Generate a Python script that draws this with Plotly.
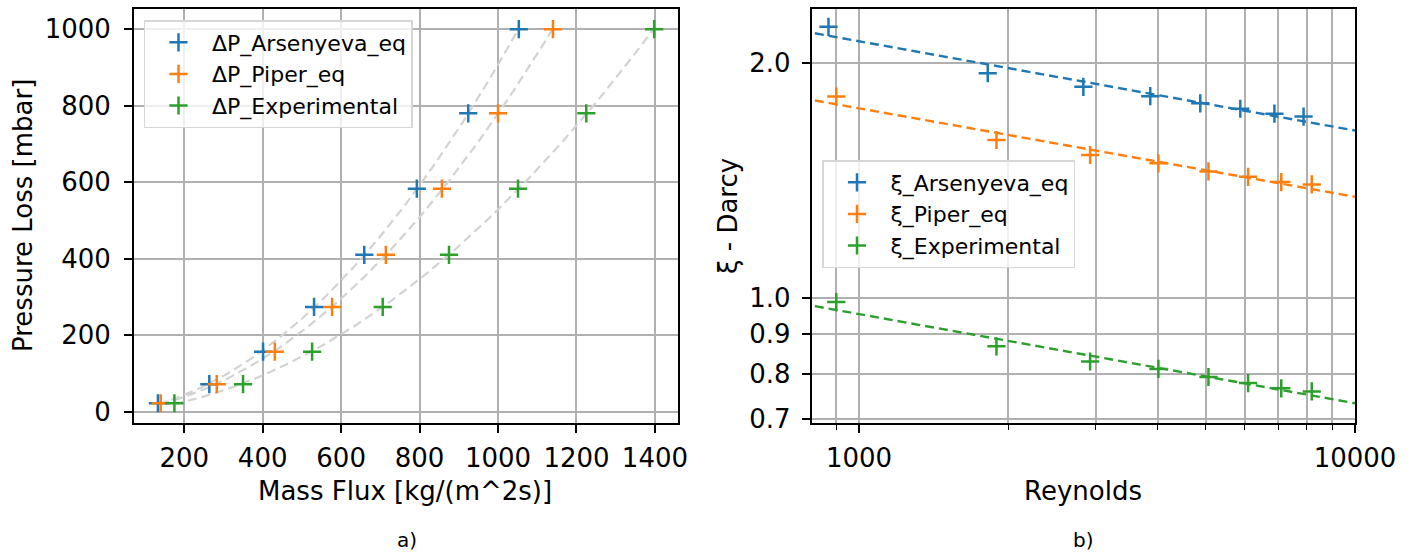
import numpy as np
import plotly.graph_objects as go

# ---------------- data ----------------
pressure_loss = [22, 72, 157, 274, 410, 583, 780, 1000]
mass_flux_arsenyeva = [133, 264, 401, 531, 659, 793, 924, 1053]
mass_flux_piper = [140, 283, 431, 577, 714, 857, 1000, 1140]
mass_flux_exp = [175, 350, 526, 706, 875, 1051, 1225, 1398]

reynolds_arsenyeva = [868, 1818, 2834, 3866, 4876, 5872, 6880, 7876]
reynolds_other = [900, 1893, 2924, 4015, 5065, 6088, 7102, 8181]
xi_arsenyeva = [2.227, 1.942, 1.866, 1.815, 1.777, 1.749, 1.724, 1.709]
xi_piper = [1.813, 1.595, 1.526, 1.489, 1.454, 1.431, 1.409, 1.399]
xi_exp = [0.989, 0.868, 0.830, 0.812, 0.793, 0.779, 0.767, 0.760]

left_names = ["ΔP_Arsenyeva_eq", "ΔP_Piper_eq", "ΔP_Experimental"]
right_names = ["ξ_Arsenyeva_eq", "ξ_Piper_eq", "ξ_Experimental"]
colors = ["#1f77b4", "#ff7f0e", "#2ca02c"]

W, H = 1413, 552
FONT = "DejaVu Sans"
FS_TICK = 26
FS_LABEL = 26
FS_LEG = 22

fig = go.Figure()

# ---------- left: pressure loss vs mass flux ----------
left_x = [mass_flux_arsenyeva, mass_flux_piper, mass_flux_exp]
for xs in left_x:
    c = np.polyfit(xs, pressure_loss, 2)
    xx = np.linspace(min(xs), max(xs), 100)
    fig.add_trace(go.Scatter(x=xx, y=np.polyval(c, xx), mode="lines",
                             line=dict(color="#d3d3d3", width=2.2, dash="9px,5px"),
                             showlegend=False, hoverinfo="skip",
                             xaxis="x", yaxis="y"))
for xs, name, col in zip(left_x, left_names, colors):
    fig.add_trace(go.Scatter(x=xs, y=pressure_loss, mode="markers", name=name,
                             marker=dict(symbol="cross-thin", size=13,
                                         line=dict(width=2.5, color=col), color=col),
                             xaxis="x", yaxis="y", legend="legend"))

# ---------- right: Darcy factor vs Reynolds ----------
right_x = [reynolds_arsenyeva, reynolds_other, reynolds_other]
right_y = [xi_arsenyeva, xi_piper, xi_exp]
for xs, ys, col in zip(right_x, right_y, colors):
    c = np.polyfit(np.log10(xs), np.log10(ys), 1)
    xx = np.logspace(2.8, 4.05, 60)
    fig.add_trace(go.Scatter(x=xx, y=10 ** np.polyval(c, np.log10(xx)), mode="lines",
                             line=dict(color=col, width=2.4, dash="9px,5px"),
                             showlegend=False, hoverinfo="skip",
                             xaxis="x2", yaxis="y2"))
for xs, ys, name, col in zip(right_x, right_y, right_names, colors):
    fig.add_trace(go.Scatter(x=xs, y=ys, mode="markers", name=name,
                             marker=dict(symbol="cross-thin", size=13,
                                         line=dict(width=2.5, color=col), color=col),
                             xaxis="x2", yaxis="y2", legend="legend2"))

ax_common = dict(showline=True, linecolor="black", linewidth=1.8, mirror=True,
                 showgrid=True, gridcolor="#b0b0b0", gridwidth=1.8,
                 ticks="outside", ticklen=8, tickwidth=1.8, tickcolor="black",
                 zeroline=False, automargin=False,
                 tickfont=dict(family=FONT, size=FS_TICK, color="black"))

ytop = 1 - 9.3 / H
ybot = 1 - 422.7 / H

fig.update_layout(
    width=W, height=H, autosize=False,
    margin=dict(l=0, r=0, t=0, b=0, pad=0),
    paper_bgcolor="white", plot_bgcolor="white",
    font=dict(family=FONT, size=FS_TICK, color="black"),
    xaxis=dict(domain=[134 / W, 677.7 / W], range=[72, 1458],
               tickvals=[200, 400, 600, 800, 1000, 1200, 1400], anchor="y",
               ticklabelstandoff=3, **ax_common),
    yaxis=dict(domain=[ybot, ytop], range=[-28.8, 1052],
               tickvals=[0, 200, 400, 600, 800, 1000], anchor="x",
               ticklabelstandoff=8, **ax_common),
    xaxis2=dict(domain=[811.7 / W, 1355 / W], type="log",
                range=[np.log10(803), 4], tickvals=[1000, 10000], ticktext=["1000", "10000"],
                anchor="y2", ticklabelstandoff=3,
                minor=dict(tickvals=[900, 2000, 3000, 4000, 5000, 6000, 7000, 8000, 9000],
                           ticks="outside", ticklen=5, tickwidth=1.4, tickcolor="black",
                           showgrid=True, gridcolor="#b0b0b0", gridwidth=1.8),
                **ax_common),
    yaxis2=dict(domain=[ybot, ytop], type="log",
                range=[np.log10(0.693), np.log10(2.345)],
                tickvals=[0.7, 0.8, 0.9, 1.0, 2.0], ticktext=["0.7", "0.8", "0.9", "1.0", "2.0"],
                anchor="x2", ticklabelstandoff=6, **ax_common),
    legend=dict(x=143.5 / W, y=1 - 20 / H, xanchor="left", yanchor="top",
                bgcolor="rgba(255,255,255,0.8)", bordercolor="#d6d6d6", borderwidth=1.5,
                font=dict(family=FONT, size=FS_LEG, color="black"), tracegroupgap=0,
                itemwidth=57),
    legend2=dict(x=822 / W, y=1 - 160 / H, xanchor="left", yanchor="top",
                 bgcolor="rgba(255,255,255,0.8)", bordercolor="#d6d6d6", borderwidth=1.5,
                 font=dict(family=FONT, size=FS_LEG, color="black"), tracegroupgap=0,
                 itemwidth=57),
    annotations=[
        dict(text="Pressure Loss [mbar]", x=23 / W, y=1 - 216 / H, xref="paper", yref="paper",
             xanchor="center", yanchor="middle",
             textangle=-90, showarrow=False, font=dict(size=FS_LABEL)),
        dict(text="Mass Flux [kg/(m^2s)]", x=405.5 / W, y=1 - 491 / H, xref="paper", yref="paper",
             xanchor="center", yanchor="middle", showarrow=False, font=dict(size=FS_LABEL)),
        dict(text="a)", x=406.5 / W, y=1 - 540 / H, xref="paper", yref="paper",
             xanchor="center", yanchor="middle", showarrow=False, font=dict(size=20)),
        dict(text="ξ - Darcy", x=728 / W, y=1 - 216 / H, xref="paper", yref="paper",
             xanchor="center", yanchor="middle",
             textangle=-90, showarrow=False, font=dict(size=FS_LABEL)),
        dict(text="Reynolds", x=1083.4 / W, y=1 - 491 / H, xref="paper", yref="paper",
             xanchor="center", yanchor="middle", showarrow=False, font=dict(size=FS_LABEL)),
        dict(text="b)", x=1083.4 / W, y=1 - 540 / H, xref="paper", yref="paper",
             xanchor="center", yanchor="middle", showarrow=False, font=dict(size=20)),
    ],
)

fig.write_html("out.html", config={"responsive": False, "displayModeBar": False},
               post_script="document.body.style.margin='0';document.body.style.overflow='hidden';")
